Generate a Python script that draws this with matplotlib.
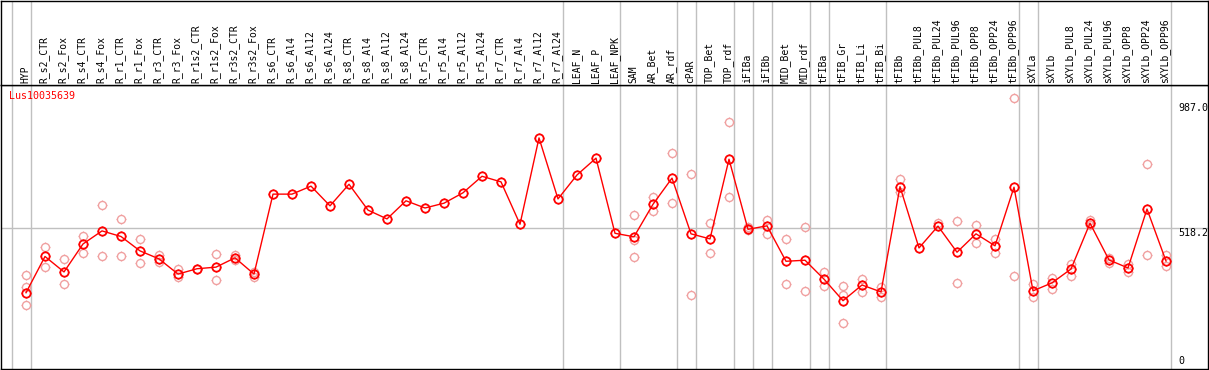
import matplotlib
matplotlib.use('Agg')
import matplotlib.pyplot as plt
from matplotlib.path import Path

# datos
gen = 'Lus10035639'
condiciones = ['HYP',
               'R_s2_CTR', 'R_s2_Fox', 'R_s4_CTR', 'R_s4_Fox', 'R_r1_CTR', 'R_r1_Fox',
               'R_r3_CTR', 'R_r3_Fox', 'R_r1s2_CTR', 'R_r1s2_Fox', 'R_r3s2_CTR', 'R_r3s2_Fox',
               'R_s6_CTR', 'R_s6_Al4', 'R_s6_Al12', 'R_s6_Al24', 'R_s8_CTR', 'R_s8_Al4',
               'R_s8_Al12', 'R_s8_Al24', 'R_r5_CTR', 'R_r5_Al4', 'R_r5_Al12', 'R_r5_Al24',
               'R_r7_CTR', 'R_r7_Al4', 'R_r7_Al12', 'R_r7_Al24',
               'LEAF_N', 'LEAF_P', 'LEAF_NPK',
               'SAM', 'AR_Bet', 'AR_rdf',
               'cPAR',
               'TOP_Bet', 'TOP_rdf',
               'iFIBa', 'iFIBb',
               'MID_Bet', 'MID_rdf',
               'tFIBa',
               'tFIB_Gr', 'tFIB_Li', 'tFIB_Bi',
               'tFIBb', 'tFIBb_PUL8', 'tFIBb_PUL24', 'tFIBb_PUL96', 'tFIBb_OPP8',
               'tFIBb_OPP24', 'tFIBb_OPP96',
               'sXYLa',
               'sXYLb', 'sXYLb_PUL8', 'sXYLb_PUL24', 'sXYLb_PUL96', 'sXYLb_OPP8',
               'sXYLb_OPP24', 'sXYLb_OPP96']

# cuantas condiciones hay en cada grupo (lineas grises entre grupos)
grupos = [1, 28, 3, 3, 1, 2, 1, 1, 2, 1, 3, 7, 1, 7]

medias = [275, 411, 353, 458, 507, 486, 432, 402, 345, 365, 371, 406, 345,
          645, 645, 675, 601, 682, 585, 552, 620, 593, 611, 650, 712, 691,
          532, 856, 627, 717, 780,
          498, 485, 607, 705, 496, 477, 776, 513, 526, 393, 397, 326, 245,
          304, 278, 673, 443, 525, 427, 496, 451, 671, 282, 312, 364, 536,
          398, 368, 589, 394]

replicas = [[342, 298, 229], [446, 372], [400, 308], [488, 423], [604, 413],
            [552, 413], [478, 387], [417, 392], [363, 333], [365], [421, 322],
            [417, 398], [354, 335],
            [], [], [], [], [], [], [], [], [], [], [], [], [], [], [], [],
            [], [], [],
            [566, 473, 409], [635, 582], [799, 610], [721, 267], [538, 423],
            [915, 634], [523, 511], [548, 496], [475, 308], [522, 281],
            [353, 302], [300, 267, 161], [327, 277], [298, 258],
            [702, 654], [], [537], [545, 311], [530, 461], [477, 423],
            [1005, 338], [307, 260], [330, 290], [384, 339], [548, 529],
            [406, 385], [383, 352], [757, 417], [415, 377]]

etiquetas_y = [0, 518.2, 987.0]

rojo = '#ff0000'
rosa = '#f0a0a0'
gris = '#c0c0c0'
fuente = 'DejaVu Sans Mono'

W, H = 1209, 370
fig = plt.figure(figsize=(W / 100, H / 100), dpi=100)
cab = 85  # alto de la cabecera en pixeles

ax = fig.add_axes([1 / W, 1 / H, 1207 / W, (H - cab - 1) / H])
axh = fig.add_axes([1 / W, (H - cab) / H, 1207 / W, (cab - 1) / H])

# escala: 0 en y=366, 987 en y=103 (pixeles)
esc = 987.0 / 263.0
ax.set_ylim((366 - 369) * esc, (366 - 85) * esc)
xlim = ((1 - 26) / 19, (1208 - 26) / 19)
ax.set_xlim(*xlim)
axh.set_xlim(*xlim)
axh.set_ylim(cab, 0)

for a in (ax, axh):
    a.set_xticks([])
    a.set_yticks([])
    for s in a.spines.values():
        s.set_color('black')
        s.set_linewidth(1.0)

# lineas de separacion de grupos
fin = -1
separadores = [fin + 0.24]
for g in grupos:
    fin += g
    separadores.append(fin + 0.24)
for s in separadores:
    ax.axvline(s, color=gris, lw=1, zorder=0)
    axh.axvline(s, color=gris, lw=1, zorder=0)

ax.axhline(etiquetas_y[1], color=gris, lw=1, zorder=0)

# marcador con rayitas alrededor del circulo
verts = [(0, 0.7), (0, 1), (0, -0.7), (0, -1), (0.7, 0), (1, 0), (-0.7, 0), (-1, 0)]
codes = [Path.MOVETO, Path.LINETO] * 4
rayitas = Path(verts, codes)

xs = list(range(len(condiciones)))

for i, reps in enumerate(replicas):
    for r in reps:
        ax.plot(i, r, 'o', ms=5.8, mfc='none', mec=rosa, mew=1, zorder=2)
        ax.plot(i, r, marker=rayitas, ms=7.6, mec=rosa, mew=0.8, ls='none', zorder=2)

ax.plot(xs, medias, '-', color=rojo, lw=1, zorder=3)
ax.plot(xs, medias, 'o', ms=6, mfc='none', mec=rojo, mew=1.3, zorder=4)
ax.plot(xs, medias, marker=rayitas, ms=7.8, mec=rojo, mew=1, ls='none', zorder=4)

# etiquetas de condiciones
for i, c in enumerate(condiciones):
    axh.text(i - 0.05, 83, c, rotation=90, ha='center', va='bottom',
             fontsize=7, family=fuente)

# etiquetas del eje y
for v in etiquetas_y:
    va = 'bottom' if v == 0 else 'top'
    txt = '0' if v == 0 else '%.1f' % v
    ax.text(1177 / 1207, v, txt, transform=ax.get_yaxis_transform(),
            ha='left', va=va, fontsize=7.2, family=fuente, clip_on=True)

fig.text(9 / W, 1 - 91 / H, gen, color=rojo, fontsize=7.2, family=fuente,
         ha='left', va='top')

fig.savefig('out.png', dpi=100)
